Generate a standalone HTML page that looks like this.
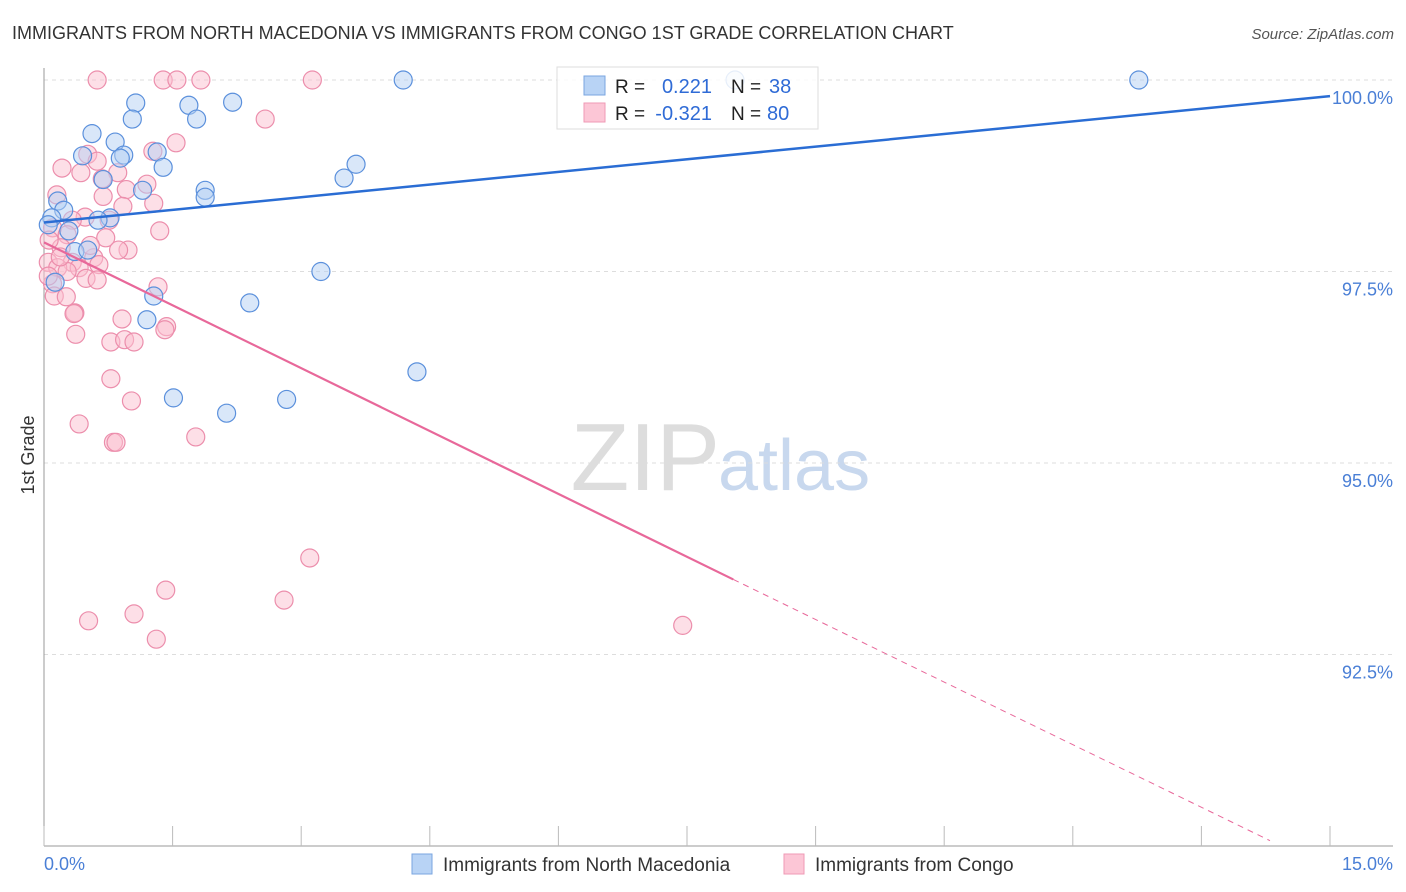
<!DOCTYPE html>
<html><head><meta charset="utf-8"><style>
body{margin:0;background:#fff;font-family:"Liberation Sans",sans-serif;}
#wrap{position:relative;width:1406px;height:892px;overflow:hidden;}
svg text{font-family:"Liberation Sans",sans-serif;}
</style></head><body>
<div id="wrap">
<svg id="chart" width="1406" height="892">
<text x="12" y="39" font-size="18" fill="#333">IMMIGRANTS FROM NORTH MACEDONIA VS IMMIGRANTS FROM CONGO 1ST GRADE CORRELATION CHART</text>
<text x="1394" y="39" font-size="15" fill="#555" font-style="italic" text-anchor="end">Source: ZipAtlas.com</text>
<text x="34" y="455" font-size="18" fill="#333" text-anchor="middle" transform="rotate(-90 34 455)">1st Grade</text>
<text x="720" y="490" font-size="96" fill="#ddd" text-anchor="end" font-family="Liberation Serif">ZIP</text>
<text x="718" y="490" font-size="72" fill="#c8d8ee">atlas</text>
<g id="grid"></g><g id="axes"></g><g id="pts"></g><g id="lines"></g>
<g>
<rect x="557" y="67" width="261" height="62" fill="#fff" fill-opacity="0.85" stroke="#ddd"/>
<rect x="584" y="76" width="21" height="19" fill="#b8d3f5" stroke="#7aa6e0"/>
<rect x="584" y="103" width="21" height="19" fill="#fcc6d6" stroke="#ef9ab5"/>
<text x="615" y="93" font-size="19" fill="#222">R = </text><text x="712" y="93" font-size="20" fill="#2f6bd6" text-anchor="end">0.221</text>
<text x="731" y="93" font-size="19" fill="#222">N = </text><text x="769" y="93" font-size="20" fill="#2f6bd6">38</text>
<text x="615" y="120" font-size="19" fill="#222">R = </text><text x="712" y="120" font-size="20" fill="#2f6bd6" text-anchor="end">-0.321</text>
<text x="731" y="120" font-size="19" fill="#222">N = </text><text x="767" y="120" font-size="20" fill="#2f6bd6">80</text>
</g>
<g>
<rect x="412" y="854" width="20" height="20" fill="#b8d3f5" stroke="#7aa6e0"/>
<text x="443" y="871" font-size="19" fill="#333">Immigrants from North Macedonia</text>
<rect x="784" y="854" width="20" height="20" fill="#fcc6d6" stroke="#ef9ab5"/>
<text x="815" y="871" font-size="19" fill="#333">Immigrants from Congo</text>
</g>
</svg>
</div>
<script>
const yTicks=[100,97.5,95,92.5];
const yTickLabels=["100.0%","97.5%","95.0%","92.5%"];
const xTickCount=[0,1.5,3,4.5,6,7.5,9,10.5,12,13.5,15];
const blueX=[4.19,12.77,8.06,1.07,1.69,2.2,1.03,1.78,0.56,0.83,0.93,0.45,0.89,1.32,1.39,3.64,3.5,0.69,1.15,1.88,1.88,0.16,0.23,0.09,0.77,0.63,0.29,0.36,0.51,3.23,0.13,1.28,2.4,1.2,4.35,1.51,2.83,2.13,0.05];
const blueY=[100,100,100,99.7,99.67,99.71,99.49,99.49,99.3,99.19,99.02,99.01,98.98,99.06,98.86,98.9,98.72,98.7,98.56,98.56,98.47,98.42,98.3,98.2,98.2,98.17,98.03,97.76,97.78,97.5,97.36,97.18,97.09,96.87,96.19,95.85,95.83,95.65,98.11];
const pinkX=[0.62,1.39,1.55,1.83,3.13,2.58,1.54,1.27,0.21,0.51,0.62,0.43,0.86,0.68,1.2,0.15,0.96,0.69,1.28,0.92,0.48,0.76,0.33,0.1,0.27,1.35,0.72,0.98,0.87,0.2,0.58,0.33,0.05,0.16,0.41,0.64,0.49,0.27,0.62,0.1,0.12,0.26,1.33,0.36,0.35,0.91,1.43,1.41,0.37,0.78,0.94,1.05,0.78,1.02,0.41,0.81,0.84,1.77,3.1,1.42,2.8,1.05,0.52,1.31,7.45,0.06,0.19,0.54,0.05];
const pinkY=[100,100,100,100,100,99.49,99.18,99.07,98.85,99.03,98.94,98.79,98.79,98.71,98.64,98.5,98.57,98.48,98.39,98.35,98.21,98.17,98.17,98.07,97.98,98.03,97.94,97.78,97.78,97.81,97.68,97.62,97.62,97.55,97.55,97.59,97.41,97.5,97.39,97.34,97.18,97.17,97.3,96.96,96.95,96.88,96.78,96.74,96.68,96.58,96.61,96.58,96.1,95.81,95.51,95.27,95.27,95.34,93.76,93.34,93.21,93.03,92.94,92.7,92.88,97.91,97.69,97.84,97.44];
const blueLine=[[0,98.14],[15,99.79]];
const pinkLine=[[0,97.88],[8.04,93.48],[14.3,90.07]];
const X0=44,X1=1330,Y100=80,YPER=76.6;
function xs(v){return X0+(X1-X0)*v/15;}
function ys(v){return Y100+(100-v)*YPER;}
const NS="http://www.w3.org/2000/svg";
function mk(tag,attrs,parent){const e=document.createElementNS(NS,tag);for(const k in attrs)e.setAttribute(k,attrs[k]);parent.appendChild(e);return e;}
const grid=document.getElementById('grid'),axes=document.getElementById('axes'),pts=document.getElementById('pts'),lines=document.getElementById('lines');
yTicks.forEach((t,i)=>{
 const l=mk('line',{x1:X0,x2:1393,y1:ys(t),y2:ys(t),stroke:'#ddd','stroke-dasharray':'4 4'},grid);
 
 
 const tx=mk('text',{x:1393,y:ys(t)+24,'font-size':18,fill:'#4a7fd6','text-anchor':'end'},axes);
 tx.textContent=yTickLabels[i];
 
 
});
let a=mk('line',{x1:X0,x2:X0,y1:68,y2:846,stroke:'#999'},axes);


a=mk('line',{x1:X0,x2:1393,y1:846,y2:846,stroke:'#999'},axes);


xTickCount.forEach(t=>{
 const l=mk('line',{x1:xs(t),x2:xs(t),y1:826,y2:846,stroke:'#bbb'},axes);
 
 
});
let t0=mk('text',{x:44,y:870,'font-size':18,fill:'#4a7fd6'},axes);t0.textContent='0.0%';


let t1=mk('text',{x:1393,y:870,'font-size':18,fill:'#4a7fd6','text-anchor':'end'},axes);t1.textContent='15.0%';


function dots(X,Y,fill,stroke,name){X.forEach((x,i)=>{
 const c=mk('circle',{cx:xs(x),cy:ys(Y[i]),r:9,fill:fill,'fill-opacity':0.5,stroke:stroke,'stroke-width':1.2},pts);
 
 
});}
dots(pinkX,pinkY,'#fbbfd0','#ec8eac','point-congo');
dots(blueX,blueY,'#b3cff3','#5b90dc','point-north-macedonia');
let bl=mk('line',{x1:xs(blueLine[0][0]),y1:ys(blueLine[0][1]),x2:xs(blueLine[1][0]),y2:ys(blueLine[1][1]),stroke:'#2a6dd4','stroke-width':2.5},lines);


let pl=mk('line',{x1:xs(pinkLine[0][0]),y1:ys(pinkLine[0][1]),x2:xs(pinkLine[1][0]),y2:ys(pinkLine[1][1]),stroke:'#e8689a','stroke-width':2.2},lines);


let pd=mk('line',{x1:xs(pinkLine[1][0]),y1:ys(pinkLine[1][1]),x2:xs(pinkLine[2][0]),y2:ys(pinkLine[2][1]),stroke:'#e8689a','stroke-width':1,'stroke-dasharray':'6 5'},lines);


</script>
</body></html>
